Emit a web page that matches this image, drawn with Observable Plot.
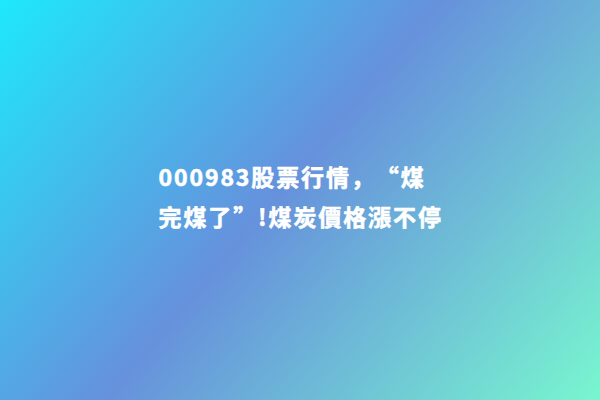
<!DOCTYPE html>
<html lang="zh-CN">
<head>
<meta charset="utf-8">
<script src="https://cdn.jsdelivr.net/npm/d3@7"></script>
<script src="https://cdn.jsdelivr.net/npm/@observablehq/plot@0.6"></script>
<style>
  html, body { margin: 0; padding: 0; background: #fff; }
  #chart { width: 600px; height: 400px; }
  #chart svg text { text-spacing-trim: space-all; font-kerning: none; }
</style>
</head>
<body>
<div id="chart"></div>
<script>
// Title text, split into its two displayed lines
const titleLines = ["000983股票行情，“煤", "完煤了”!煤炭價格漲不停"];
const lineIndex = [0, 1];
// Background gradient stops
const gradientStops = [0, 0.47, 1];
const gradientColors = ["#1ee8fc", "#6691dc", "#78f6cf"];

const rows = titleLines.map((t, i) => ({text: t, line: lineIndex[i]}));

const bg = "linear-gradient(130deg, " +
  gradientColors.map((c, i) => `${c} ${gradientStops[i] * 100}%`).join(", ") + ")";

const chart = Plot.plot({
  width: 600,
  height: 400,
  margin: 0,
  style: {
    background: bg,
    letterSpacing: "1.9px",
    fontFamily: "'Noto Sans CJK SC', 'Noto Sans', sans-serif"
  },
  x: {domain: [0, 600], axis: null},
  y: {domain: [-4.45, 5.55], reverse: true, axis: null},
  marks: [
    Plot.text(rows, {
      x: () => 158,
      y: "line",
      text: "text",
      textAnchor: "start",
      lineAnchor: "middle",
      fill: "white",
      stroke: "white",
      strokeWidth: 0.6,
      fontSize: 23,
      fontWeight: 700,
      fontFamily: "Noto Sans CJK SC"
    })
  ]
});
document.getElementById("chart").appendChild(chart);
</script>
</body>
</html>
